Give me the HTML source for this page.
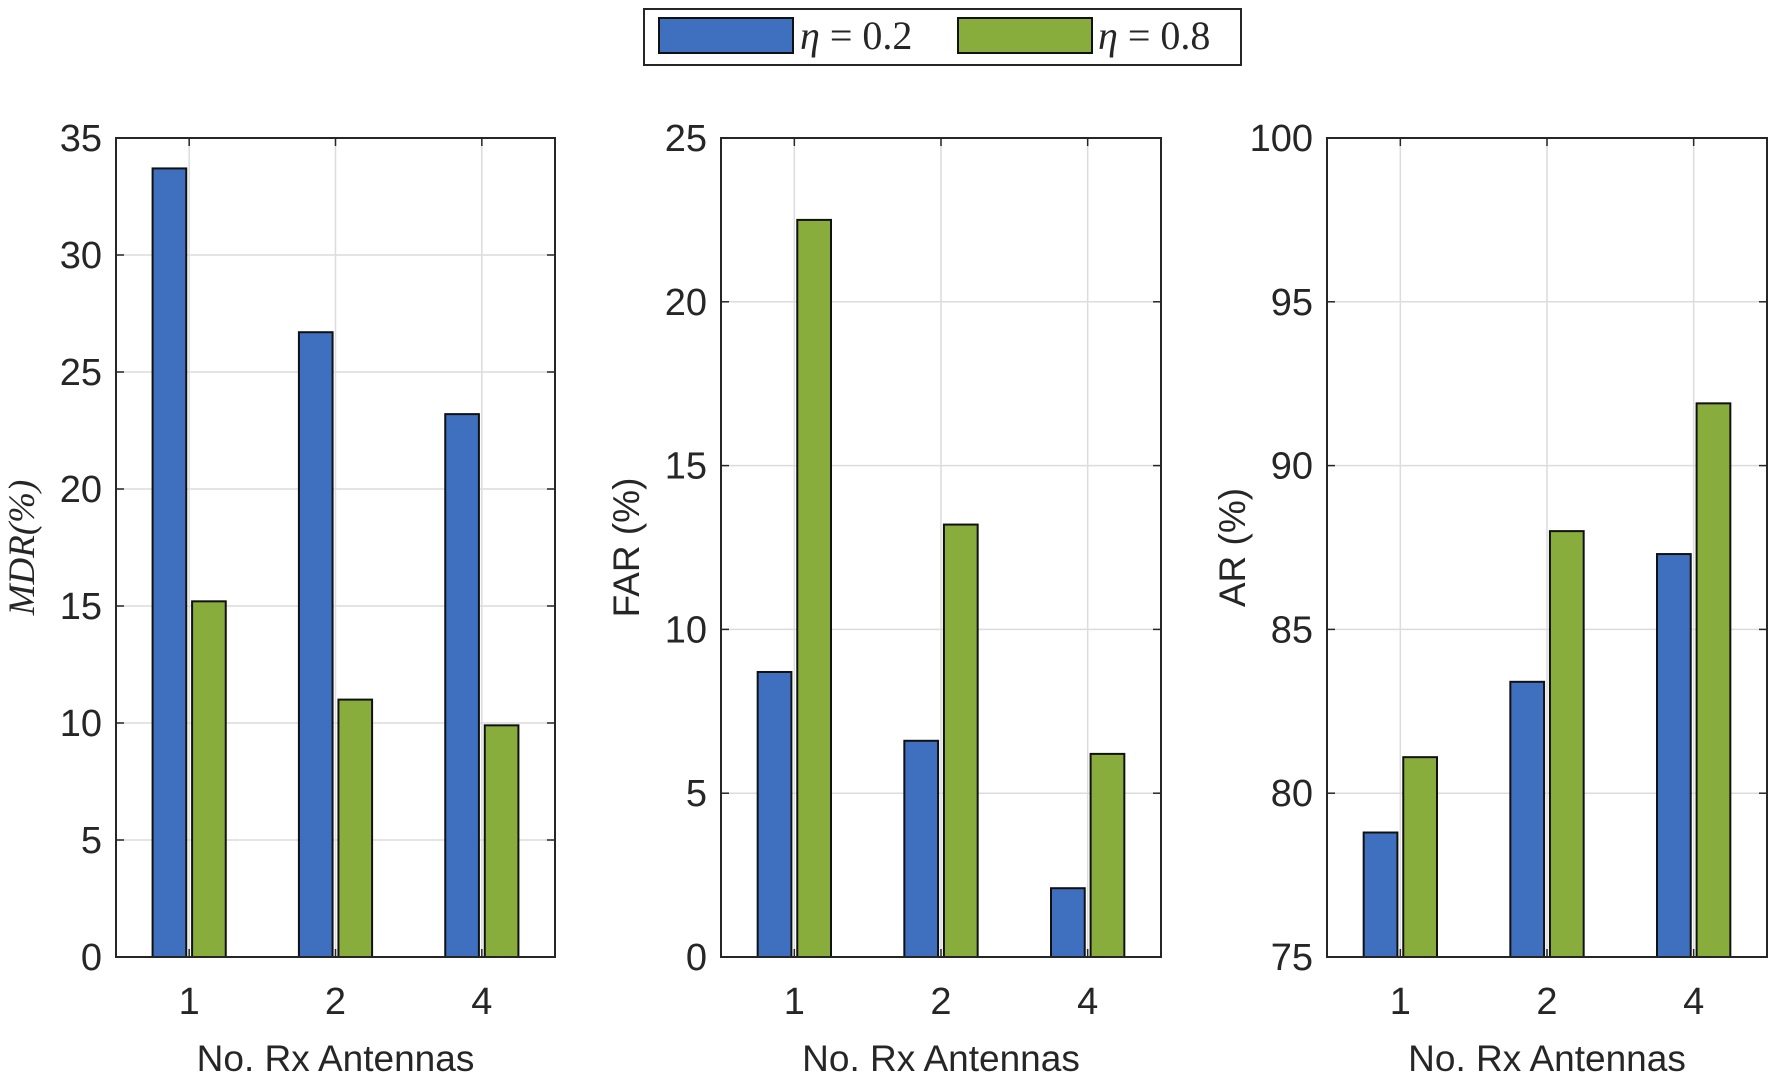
<!DOCTYPE html>
<html><head><meta charset="utf-8"><style>
body{margin:0;background:#fff;}
svg text{font-family:"Liberation Sans",sans-serif;fill:#262626;}
</style></head><body>
<svg id="c" width="1772" height="1080" xmlns="http://www.w3.org/2000/svg">
<g>
<rect x="644" y="9" width="597" height="56" fill="#fff" stroke="#262626" stroke-width="2"/>
<rect x="659" y="18" width="134" height="35" fill="#3f6fbf" stroke="#111" stroke-width="2"/>
<text x="800" y="49" font-size="40" style="font-family:'Liberation Serif',serif"><tspan font-style="italic">η</tspan> = 0.2</text>
<rect x="958" y="18" width="134" height="35" fill="#88ad3d" stroke="#111" stroke-width="2"/>
<text x="1098" y="49" font-size="40" style="font-family:'Liberation Serif',serif"><tspan font-style="italic">η</tspan> = 0.8</text>
</g>
</svg>
<script>
const categories=["1","2","4"];
const mdrLow=[33.7,26.7,23.2];
const mdrHigh=[15.2,11.0,9.9];
const farLow=[8.7,6.6,2.1];
const farHigh=[22.5,13.2,6.2];
const arLow=[78.8,83.4,87.3];
const arHigh=[81.1,88.0,91.9];
const mdrTicks=[0,5,10,15,20,25,30,35];
const farTicks=[0,5,10,15,20,25];
const arTicks=[75,80,85,90,95,100];

const svg=document.getElementById('c');
const NS="http://www.w3.org/2000/svg";
function mk(tag,attrs,parent){const e=document.createElementNS(NS,tag);for(const k in attrs)e.setAttribute(k,attrs[k]);(parent||svg).appendChild(e);return e;}
const top_=138,bot=957;
function panel(name,x0,x1,ymin,ymax,ticks,low,high,ylabel,italic){
  const g=mk('g',{});
  
  
  const w=x1-x0;
  const xs=i=>x0+w*(i+0.5)/3;
  const ys=v=>bot-(v-ymin)/(ymax-ymin)*(bot-top_);
  ticks.forEach(t=>{
    const y=ys(t);
    if(t!==ymin&&t!==ymax){const l=mk('line',{x1:x0,x2:x1,y1:y,y2:y,stroke:'#dcdcdc','stroke-width':1.5},g);
    
    }
    mk('line',{x1:x0,x2:x0+8,y1:y,y2:y,stroke:'#262626','stroke-width':1.5},g);
    mk('line',{x1:x1,x2:x1-8,y1:y,y2:y,stroke:'#262626','stroke-width':1.5},g);
    const tx=mk('text',{x:x0-14,y:y+13,'font-size':38,'text-anchor':'end'},g);
    tx.textContent=t;
    
    
  });
  categories.forEach((c,i)=>{
    const x=xs(i);
    const l=mk('line',{x1:x,x2:x,y1:top_,y2:bot,stroke:'#dcdcdc','stroke-width':1.5},g);
    
    
    mk('line',{x1:x,x2:x,y1:top_,y2:top_+8,stroke:'#262626','stroke-width':1.5},g);
    mk('line',{x1:x,x2:x,y1:bot,y2:bot-8,stroke:'#262626','stroke-width':1.5},g);
    const tx=mk('text',{x:x,y:bot+57,'font-size':38,'text-anchor':'middle'},g);
    tx.textContent=c;
    
    
  });
  const unit=w/3,bw=unit*0.23,off=unit*0.135;
  categories.forEach((c,i)=>{
    [[low,-off,'#3f6fbf','eta-02'],[high,off,'#88ad3d','eta-08']].forEach(s=>{
      const y=ys(s[0][i]);
      const r=mk('rect',{x:xs(i)+s[1]-bw/2,y:y,width:bw,height:bot-y,fill:s[2],stroke:'#111','stroke-width':2},g);
      
      
    });
  });
  const fr=mk('rect',{x:x0,y:top_,width:w,height:bot-top_,fill:'none',stroke:'#262626','stroke-width':2},g);
  
  
  const xl=mk('text',{x:x0+w/2,y:bot+114,'font-size':37,'text-anchor':'middle'},g);
  xl.textContent='No. Rx Antennas';
  
  
  const yx=x0-82,yy=(top_+bot)/2;
  const yl=mk('text',{x:yx,y:yy,'font-size':37,'text-anchor':'middle',transform:'rotate(-90 '+yx+' '+yy+')'},g);
  if(italic){yl.setAttribute('style',"font-family:'Liberation Serif',serif;font-style:italic");yl.setAttribute('fill','#555');}
  yl.textContent=ylabel;
  
  
}
panel('mdr',116,555,0,35,mdrTicks,mdrLow,mdrHigh,'MDR(%)',true);
panel('far',721,1161,0,25,farTicks,farLow,farHigh,'FAR (%)',false);
panel('ar',1327,1767,75,100,arTicks,arLow,arHigh,'AR (%)',false);
</script>
</body></html>
